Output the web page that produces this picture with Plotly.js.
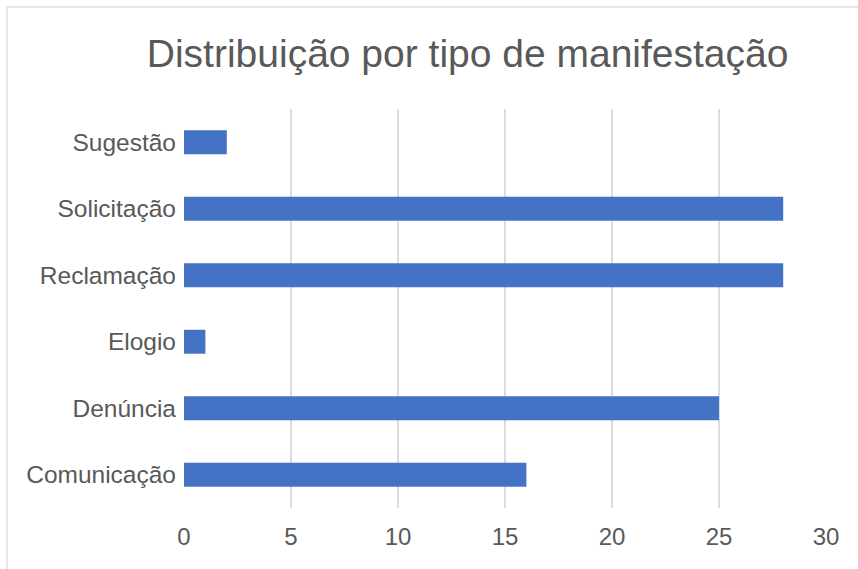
<!DOCTYPE html>
<html>
<head>
<meta charset="utf-8">
<script src="https://cdn.plot.ly/plotly-3.0.1.min.js"></script>
<style>
  html, body { margin: 0; padding: 0; background: #ffffff; }
  #wrap { position: relative; width: 858px; height: 569px; overflow: hidden; }
  #chart { width: 858px; height: 569px; }
  #frame { position: absolute; left: 6px; top: 6px; width: 900px; height: 700px;
           border-top: 2px solid #e6e6e6; border-left: 2px solid #e6e6e6; pointer-events: none; }
</style>
</head>
<body>
<div id="wrap">
  <div id="chart"></div>
  <div id="frame"></div>
</div>
<script>
const categories = ["Comunicação", "Denúncia", "Elogio", "Reclamação", "Solicitação", "Sugestão"];
const values = [16, 25, 1, 28, 28, 2];
const xTicks = [0, 5, 10, 15, 20, 25, 30];
const chartTitle = "Distribuição por tipo de manifestação";

const font = "'Liberation Sans', Arial, Helvetica, sans-serif";
const textColor = "#595959";

const trace = {
  type: "bar",
  orientation: "h",
  y: categories,
  x: values,
  marker: { color: "#4472C4", line: { width: 0 } },
  hoverinfo: "none"
};

const layout = {
  width: 858,
  height: 569,
  margin: { l: 184, r: 32, t: 109, b: 61 },
  paper_bgcolor: "#ffffff",
  plot_bgcolor: "#ffffff",
  showlegend: false,
  bargap: 0.64,
  font: { family: font, color: textColor },
  title: {
    text: chartTitle,
    font: { family: font, size: 39, color: textColor },
    xref: "container",
    x: 0.545,
    xanchor: "center",
    yref: "container",
    y: 1 - 53 / 569,
    yanchor: "middle"
  },
  xaxis: {
    range: [0, 30],
    tickvals: xTicks,
    ticktext: xTicks.map(String),
    showgrid: true,
    gridcolor: "#dcdcdc",
    gridwidth: 1.5,
    zeroline: false,
    showline: false,
    ticks: "",
    tickfont: { family: font, size: 24, color: textColor },
    ticklabelstandoff: 12,
    fixedrange: true
  },
  yaxis: {
    type: "category",
    categoryorder: "array",
    categoryarray: categories,
    showgrid: false,
    zeroline: false,
    showline: false,
    ticks: "",
    tickfont: { family: font, size: 24.5, color: textColor },
    ticklabelstandoff: 7,
    fixedrange: true
  }
};

Plotly.newPlot("chart", [trace], layout, { displayModeBar: false, staticPlot: true });
</script>
</body>
</html>
